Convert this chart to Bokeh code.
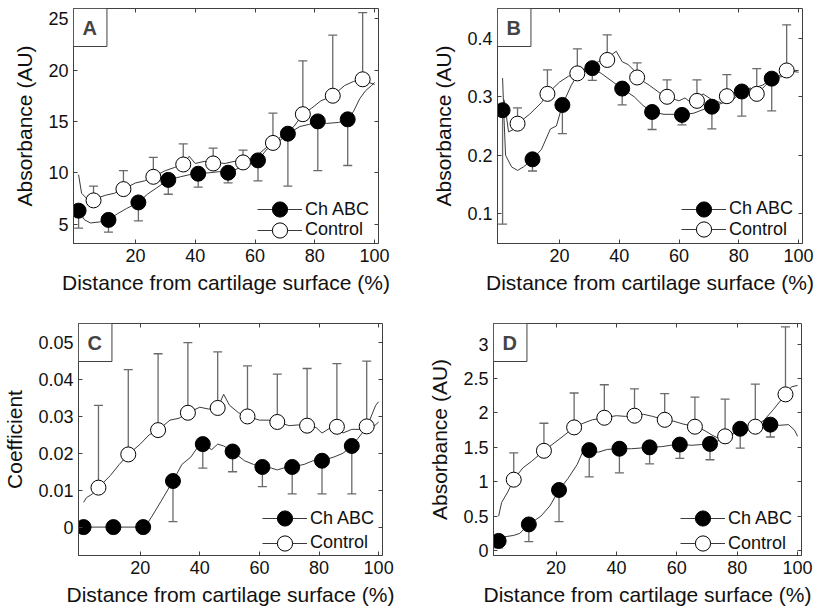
from bokeh.plotting import figure
from bokeh.models import (Range1d, FixedTicker, LinearAxis, Whisker, TeeHead,
                          ColumnDataSource, Legend, LegendItem, Label)
from bokeh.layouts import row, column
from bokeh.embed import file_html
from bokeh.resources import INLINE

FONT = "Liberation Sans"
AXC = "#404040"
LINEC = "#3a3a3a"
ERRC = "#6a6a6a"

x_ticks = [20, 40, 60, 80, 100]
x_tick_labels = ["20", "40", "60", "80", "100"]
x_label = "Distance from cartilage surface (%)"
ch_x = [1, 11, 21, 31, 41, 51, 61, 71, 81, 91]
ct_x = [6, 16, 26, 36, 46, 56, 66, 76, 86, 96]

# ---------------- Panel A ----------------
a_ch = [6.3, 5.4, 7.1, 9.3, 9.9, 10.0, 11.2, 13.8, 15.0, 15.2]
a_ch_lo = [4.6, 4.2, 5.3, 7.9, 8.6, 9.0, 9.2, 8.7, 10.2, 10.7]
a_ct = [7.3, 8.4, 9.6, 10.8, 10.9, 11.0, 12.9, 15.7, 17.5, 19.1]
a_ct_hi = [8.7, 10.2, 11.5, 12.8, 12.4, 12.2, 15.8, 20.9, 23.4, 25.6]
a_chl_x = [1, 3, 5, 8, 11, 14, 17, 21, 24, 27, 31, 35, 38, 41, 45, 48, 51, 55, 58, 61, 64, 67, 71, 75, 78, 81, 84, 88, 91, 93, 95, 97, 99, 100]
a_chl_y = [6.3, 5.4, 5.1, 5.2, 5.4, 6.0, 6.5, 7.1, 7.9, 8.5, 9.3, 9.6, 9.8, 9.9, 10.0, 10.1, 10.0, 10.5, 10.8, 11.2, 12.3, 12.8, 13.8, 14.5, 14.7, 15.0, 14.8, 14.9, 15.2, 16.0, 17.2, 18.0, 18.5, 18.8]
a_ctl_x = [1, 2, 4, 6, 8, 10, 13, 16, 20, 23, 26, 30, 33, 36, 38, 40, 43, 46, 50, 53, 56, 60, 62, 64, 66, 70, 73, 76, 79, 82, 86, 90, 93, 96, 98, 100]
a_ctl_y = [9.8, 8.0, 7.4, 7.3, 7.6, 7.8, 8.0, 8.4, 9.0, 9.2, 9.6, 10.2, 10.5, 10.8, 11.6, 10.9, 11.1, 11.0, 10.9, 11.1, 11.0, 11.5, 12.0, 12.5, 12.9, 13.8, 14.5, 15.7, 16.3, 17.0, 17.5, 18.5, 18.9, 19.1, 18.8, 18.6]

# ---------------- Panel B ----------------
b_ch = [0.277, 0.193, 0.286, 0.349, 0.314, 0.274, 0.269, 0.283, 0.309, 0.331]
b_ch_lo = [0.082, 0.173, 0.237, 0.328, 0.286, 0.244, 0.252, 0.245, 0.267, 0.276]
b_ct = [0.254, 0.305, 0.340, 0.363, 0.333, 0.300, 0.293, 0.301, 0.305, 0.345]
b_ct_hi = [0.281, 0.346, 0.382, 0.406, 0.358, 0.329, 0.329, 0.338, 0.348, 0.423]
b_chl_x = [1, 1.5, 2, 4, 6, 8, 11, 14, 17, 19, 21, 24, 27, 31, 34, 38, 41, 45, 48, 51, 55, 58, 61, 65, 68, 71, 75, 78, 81, 85, 88, 91, 95, 98, 100]
b_chl_y = [0.332, 0.26, 0.20, 0.18, 0.174, 0.18, 0.193, 0.21, 0.245, 0.25, 0.286, 0.32, 0.345, 0.349, 0.34, 0.325, 0.314, 0.30, 0.285, 0.274, 0.27, 0.27, 0.269, 0.272, 0.278, 0.283, 0.29, 0.295, 0.309, 0.315, 0.32, 0.331, 0.335, 0.345, 0.345]
b_ctl_x = [1.5, 3, 5, 6, 10, 14, 16, 20, 23, 26, 30, 33, 37, 39, 41, 43, 45, 46, 50, 54, 56, 60, 62, 64, 66, 68, 71, 74, 76, 80, 84, 86, 89, 92, 96, 100]
b_ctl_y = [0.295, 0.24, 0.245, 0.254, 0.27, 0.29, 0.305, 0.325, 0.335, 0.340, 0.35, 0.36, 0.37, 0.378, 0.36, 0.355, 0.345, 0.333, 0.32, 0.305, 0.300, 0.293, 0.298, 0.29, 0.293, 0.305, 0.295, 0.29, 0.301, 0.31, 0.315, 0.305, 0.32, 0.33, 0.345, 0.342]

# ---------------- Panel C ----------------
c_ch = [0.0, 0.0, 0.0, 0.0125, 0.0225, 0.0205, 0.0163, 0.0163, 0.018, 0.022]
c_ch_lo = [0.0, 0.0, 0.0, 0.0015, 0.016, 0.015, 0.011, 0.009, 0.009, 0.009]
c_ct = [0.0107, 0.0197, 0.0263, 0.031, 0.0323, 0.030, 0.0285, 0.0275, 0.0272, 0.0273]
c_ct_hi = [0.033, 0.0427, 0.047, 0.050, 0.0475, 0.0437, 0.0415, 0.043, 0.0443, 0.045]
c_chl_x = [1, 11, 21, 22, 24, 27, 31, 34, 37, 40, 41, 44, 46, 48, 51, 55, 58, 61, 64, 66, 68, 71, 75, 78, 81, 85, 88, 91, 93, 96, 99, 100]
c_chl_y = [0.0, 0.0, 0.0, 0.0005, 0.003, 0.007, 0.0125, 0.017, 0.019, 0.0225, 0.0225, 0.021, 0.0225, 0.022, 0.0205, 0.018, 0.017, 0.0163, 0.016, 0.0155, 0.016, 0.0163, 0.017, 0.018, 0.018, 0.019, 0.020, 0.022, 0.024, 0.027, 0.033, 0.034]
c_ctl_x = [1, 2, 4, 6, 10, 13, 16, 20, 23, 26, 30, 33, 36, 40, 43, 46, 48, 50, 53, 56, 60, 63, 66, 70, 73, 76, 79, 81, 84, 86, 88, 91, 94, 96, 98, 100]
c_ctl_y = [0.0067, 0.008, 0.009, 0.0107, 0.014, 0.017, 0.0197, 0.0225, 0.025, 0.0263, 0.029, 0.0295, 0.031, 0.0325, 0.032, 0.0323, 0.036, 0.033, 0.031, 0.030, 0.029, 0.029, 0.0285, 0.0275, 0.0277, 0.0275, 0.027, 0.0255, 0.027, 0.0272, 0.0255, 0.0265, 0.0265, 0.0273, 0.027, 0.0285]

# ---------------- Panel D ----------------
d_ch = [0.14, 0.38, 0.88, 1.46, 1.48, 1.50, 1.54, 1.55, 1.77, 1.83]
d_ch_lo = [0.04, 0.13, 0.42, 1.07, 1.13, 1.26, 1.34, 1.32, 1.49, 1.65]
d_ct = [1.03, 1.45, 1.79, 1.93, 1.96, 1.90, 1.80, 1.66, 1.80, 2.27]
d_ct_hi = [1.42, 1.85, 2.29, 2.41, 2.35, 2.28, 2.23, 2.20, 2.42, 3.25]
d_chl_x = [1, 3, 6, 8, 11, 15, 18, 21, 24, 27, 29, 31, 34, 37, 41, 45, 48, 51, 55, 58, 61, 65, 68, 71, 74, 77, 79, 81, 84, 88, 91, 94, 97, 99, 100]
d_chl_y = [0.14, 0.2, 0.22, 0.25, 0.38, 0.5, 0.65, 0.88, 1.05, 1.25, 1.45, 1.46, 1.43, 1.47, 1.48, 1.48, 1.49, 1.50, 1.51, 1.53, 1.54, 1.53, 1.54, 1.55, 1.6, 1.65, 1.72, 1.77, 1.80, 1.82, 1.83, 1.82, 1.83, 1.75, 1.66]
d_ctl_x = [1, 2, 4, 6, 9, 12, 16, 19, 22, 26, 29, 32, 36, 40, 43, 46, 49, 52, 56, 59, 62, 66, 69, 72, 74, 76, 79, 82, 86, 89, 92, 96, 98, 100]
d_ctl_y = [0.5, 0.7, 0.85, 1.03, 1.2, 1.3, 1.45, 1.55, 1.65, 1.79, 1.85, 1.9, 1.93, 1.96, 1.95, 1.96, 1.98, 1.95, 1.90, 1.88, 1.84, 1.80, 1.75, 1.67, 1.63, 1.66, 1.70, 1.72, 1.80, 1.90, 2.05, 2.27, 2.38, 2.40]

XR = (-0.7, 101.3)
GLYPH_H = 38


def style_axis(ax):
    ax.axis_line_color = AXC
    ax.major_tick_line_color = AXC
    ax.major_tick_in = 4
    ax.major_tick_out = 0
    ax.minor_tick_line_color = None
    ax.major_label_text_font = FONT
    ax.major_label_text_font_size = "18px"
    ax.major_label_text_color = "#111111"
    ax.axis_label_text_font = FONT
    ax.axis_label_text_font_size = "21px"
    ax.axis_label_text_font_style = "normal"
    ax.axis_label_text_color = "#111111"


def add_legend(p, label, renderers, vx, vy_center):
    leg = Legend(items=[LegendItem(label=label, renderers=renderers)],
                 location=(vx, vy_center - GLYPH_H / 2), margin=0, padding=0,
                 spacing=0, glyph_width=45, glyph_height=GLYPH_H, label_height=20,
                 label_standoff=3, border_line_alpha=0, background_fill_alpha=0,
                 label_text_font=FONT, label_text_font_size="18px",
                 label_text_color="#111111")
    p.add_layout(leg)


def panel(letter, ylabel, yr, yticks, ytick_labels, ch, ch_lo, ct, ct_hi,
          chl_x, chl_y, ctl_x, ctl_y, w, h, bl, br, bt, bb, leg_rows):
    p = figure(width=w, height=h, x_range=Range1d(*XR), y_range=Range1d(*yr),
               output_backend="svg", toolbar_location=None,
               min_border_left=bl, min_border_right=br,
               min_border_top=bt, min_border_bottom=bb)
    p.grid.visible = False
    p.outline_line_color = AXC
    p.outline_line_width = 1
    p.background_fill_color = "white"
    p.border_fill_color = "white"

    xa = p.xaxis[0]
    xa.ticker = FixedTicker(ticks=x_ticks)
    xa.major_label_overrides = {t: s for t, s in zip(x_ticks, x_tick_labels)}
    xa.axis_label = x_label
    ya = p.yaxis[0]
    ya.ticker = FixedTicker(ticks=yticks)
    ya.major_label_overrides = {t: s for t, s in zip(yticks, ytick_labels)}
    ya.axis_label = ylabel
    style_axis(xa)
    style_axis(ya)
    xa.major_label_standoff = 5
    xa.axis_label_standoff = 6
    ya.major_label_standoff = 5
    ya.axis_label_standoff = 9

    # tick marks on the top and right edges (no labels)
    ta = LinearAxis(ticker=FixedTicker(ticks=x_ticks))
    ra = LinearAxis(ticker=FixedTicker(ticks=yticks))
    for ax in (ta, ra):
        style_axis(ax)
        ax.major_label_text_font_size = "0px"
        ax.major_label_text_alpha = 0
        ax.major_label_standoff = 0
        ax.axis_line_color = None
    p.add_layout(ta, "above")
    p.add_layout(ra, "right")

    # error bars
    s_ch = ColumnDataSource(dict(x=ch_x, v=ch, lo=ch_lo))
    s_ct = ColumnDataSource(dict(x=ct_x, v=ct, hi=ct_hi))
    p.add_layout(Whisker(base="x", lower="lo", upper="v", source=s_ch,
                         line_color=ERRC, line_width=1.3, upper_head=None,
                         lower_head=TeeHead(size=9, line_color=ERRC, line_width=1.3)))
    p.add_layout(Whisker(base="x", lower="v", upper="hi", source=s_ct,
                         line_color=ERRC, line_width=1.3, lower_head=None,
                         upper_head=TeeHead(size=9, line_color=ERRC, line_width=1.3)))

    l1 = p.line(chl_x, chl_y, line_color=LINEC, line_width=1)
    l2 = p.line(ctl_x, ctl_y, line_color=LINEC, line_width=1)
    s1 = p.scatter("x", "v", source=s_ch, size=15, fill_color="black", line_color="black")
    s2 = p.scatter("x", "v", source=s_ct, size=15, fill_color="white", line_color="black", line_width=1)

    fw = w - bl - br
    add_legend(p, "Ch ABC", [l1, s1], fw - 121, leg_rows[0])
    add_legend(p, "Control", [l2, s2], fw - 121, leg_rows[1])

    p.add_layout(Label(x=XR[0], y=yr[1], text=letter, text_font=FONT,
                       text_font_style="bold", text_font_size="20px",
                       anchor="top_left",
                       padding=dict(left=9, right=10, top=8, bottom=8),
                       border_line_color=AXC, background_fill_color="white"))
    return p


pA = panel("A", "Absorbance (AU)", (3.1, 26.0), [5, 10, 15, 20, 25], ["5", "10", "15", "20", "25"],
           a_ch, a_ch_lo, a_ct, a_ct_hi, a_chl_x, a_chl_y, a_ctl_x, a_ctl_y,
           414, 306, 73, 36, 8, 63, (34, 13.5))
pB = panel("B", "Absorbance (AU)", (0.049, 0.451), [0.1, 0.2, 0.3, 0.4], ["0.1", "0.2", "0.3", "0.4"],
           b_ch, b_ch_lo, b_ct, b_ct_hi, b_chl_x, b_chl_y, b_ctl_x, b_ctl_y,
           400, 306, 83, 12, 8, 62, (34.5, 14))
pC = panel("C", "Coefficient", (-0.0077, 0.0552), [0, 0.01, 0.02, 0.03, 0.04, 0.05],
           ["0", "0.01", "0.02", "0.03", "0.04", "0.05"],
           c_ch, c_ch_lo, c_ct, c_ct_hi, c_chl_x, c_chl_y, c_ctl_x, c_ctl_y,
           414, 302, 77, 32, 17, 51, (37, 12.5))
pD = panel("D", "Absorbance (AU)", (-0.072, 3.30), [0, 0.5, 1, 1.5, 2, 2.5, 3],
           ["0", "0.5", "1", "1.5", "2", "2.5", "3"],
           d_ch, d_ch_lo, d_ct, d_ct_hi, d_chl_x, d_chl_y, d_ctl_x, d_ctl_y,
           400, 302, 79, 13, 17, 51, (37, 12))

layout = column(row(pA, pB), row(pC, pD))
open("out.html", "w").write(file_html(layout, INLINE))
